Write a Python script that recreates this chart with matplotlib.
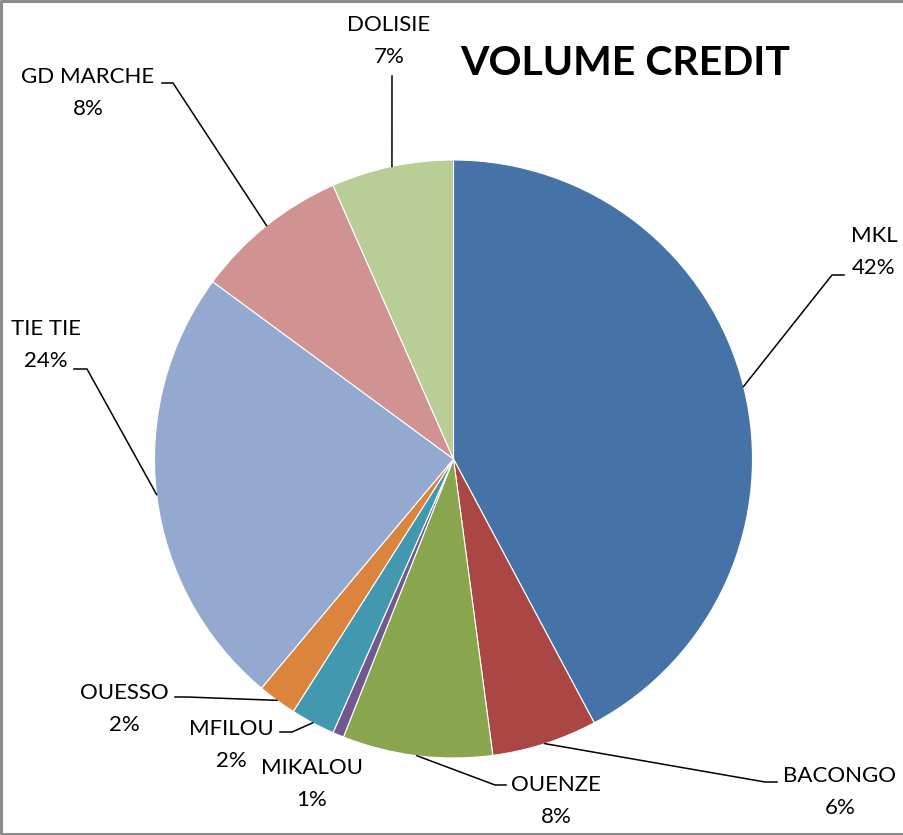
import numpy as np
import matplotlib
matplotlib.use("Agg")
import matplotlib.pyplot as plt

# Share of credit volume per agency, in percent
agencies = ["MKL", "BACONGO", "OUENZE", "MIKALOU", "MFILOU",
            "OUESSO", "TIE TIE", "GD MARCHE", "DOLISIE"]
shares = [42.2, 5.7, 8.1, 0.6, 2.4, 2.1, 24.0, 8.3, 6.6]
colors = ["#4572A7", "#AA4643", "#89A54E", "#71588F", "#4198AF",
          "#DB843D", "#93A9CF", "#D19392", "#B9CD96"]

# Label layout in pixel coordinates (y grows downwards):
# text centre x, baseline of name, leader elbow, end of leader
label_layout = {
    "MKL":       dict(x=874, y=242, elbow=(832, 275), end=844),
    "BACONGO":   dict(x=840, y=782, elbow=(765, 782), end=777),
    "OUENZE":    dict(x=556, y=791, elbow=(495, 785), end=506),
    "MIKALOU":   dict(x=312, y=774, elbow=None, end=None),
    "MFILOU":    dict(x=231, y=735, elbow=(292, 732), end=280),
    "OUESSO":    dict(x=124, y=699, elbow=(187, 697), end=175),
    "TIE TIE":   dict(x=46,  y=335, elbow=(87, 369), end=74),
    "GD MARCHE": dict(x=88,  y=83,  elbow=(173, 83), end=162),
    "DOLISIE":   dict(x=389, y=31,  elbow=(392, 76), end=392),
}

W, H = 904, 835
center = (453.5, 459)
radius = 299

fig = plt.figure(figsize=(W / 100, H / 100), dpi=100)
ax = fig.add_axes([0, 0, 1, 1])

# y axis is inverted below, so counterclock in data = clockwise on screen,
# and startangle -90 points straight up
wedges, _ = ax.pie(shares, colors=colors, startangle=-90, counterclock=True,
                   center=center, radius=radius,
                   wedgeprops=dict(edgecolor="white", linewidth=0.8))

ax.set_xlim(0, W)
ax.set_ylim(H, 0)
ax.set_aspect("equal")
ax.axis("off")

font = "Lato"
total = sum(shares)
for w, name, val in zip(wedges, agencies, shares):
    lay = label_layout[name]
    ax.text(lay["x"], lay["y"], name, ha="center", va="baseline",
            fontsize=16, family=font, color="black")
    ax.text(lay["x"], lay["y"] + 32, f"{val / total * 100:.0f}%", ha="center",
            va="baseline", fontsize=16, family=font, color="black")

    if lay["elbow"] is None:
        continue
    # leader from the edge of the wedge at its mid angle
    mid = np.deg2rad((w.theta1 + w.theta2) / 2)
    px = center[0] + radius * np.cos(mid)
    py = center[1] + radius * np.sin(mid)
    ex, ey = lay["elbow"]
    ax.plot([px, ex, lay["end"]], [py, ey, ey], color="black", lw=1.1,
            solid_joinstyle="miter")

ax.text(625, 75, "VOLUME CREDIT", ha="center", va="baseline",
        fontsize=29.5, fontweight="bold", family=font, color="black")

# chart area border (right side is cut off in the original)
ax.plot([W, 1, 1, W], [1, 1, H - 1.5, H - 1.5], color="#8c8c8c", lw=2.2,
        clip_on=False)

fig.savefig("out.png", dpi=100)
